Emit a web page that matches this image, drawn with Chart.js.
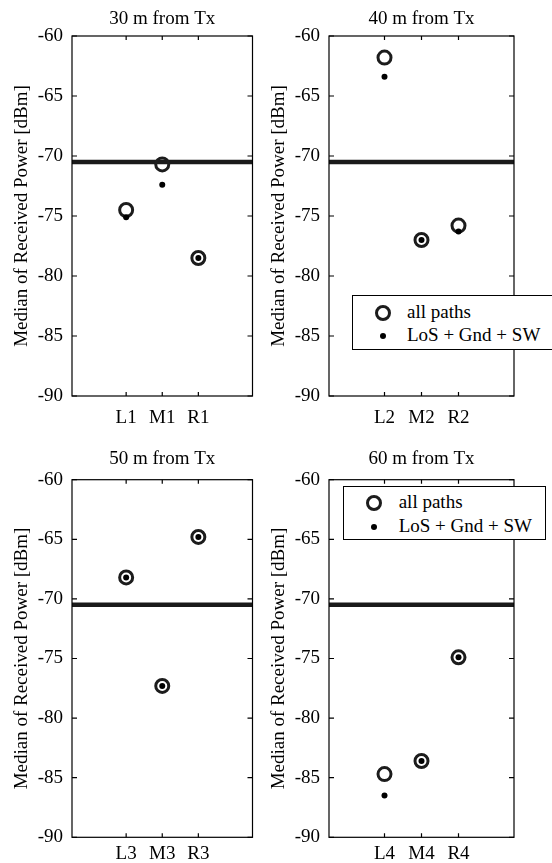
<!DOCTYPE html>
<html>
<head>
<meta charset="utf-8">
<script src="https://cdn.jsdelivr.net/npm/chart.js@4.4.1/dist/chart.umd.min.js"></script>
<style>
  body { margin: 0; background: #fff; }
  #wrap { position: relative; width: 552px; height: 863px; overflow: hidden; font-family: 'Liberation Serif', 'Times New Roman', serif; }
  .panel { position: absolute; }
  .legend { position: absolute; background: #fff; border: 1.3px solid #000; box-sizing: border-box; font-size: 19px; color: #000; z-index: 5; }
  .legend .txt { position: absolute; white-space: nowrap; line-height: 22px; height: 22px; }
  .legend .ring { position: absolute; width: 16px; height: 16px; border: 3px solid #1c1c1c; border-radius: 50%; box-sizing: border-box; }
  .legend .dot { position: absolute; width: 6px; height: 6px; background: #000; border-radius: 50%; }
</style>
</head>
<body>
<div id="wrap"></div>
<script>
// --- data ---
const panelTitles = ['30 m from Tx', '40 m from Tx', '50 m from Tx', '60 m from Tx'];
const positions = [
  ['L1', 'M1', 'R1'],
  ['L2', 'M2', 'R2'],
  ['L3', 'M3', 'R3'],
  ['L4', 'M4', 'R4']
];
const allPaths = [
  [-74.5, -70.7, -78.5],
  [-61.8, -77.0, -75.8],
  [-68.2, -77.3, -64.8],
  [-84.7, -83.6, -74.9]
];
const losGndSw = [
  [-75.1, -72.4, -78.5],
  [-63.4, -77.0, -76.3],
  [-68.2, -77.3, -64.8],
  [-86.5, -83.6, -74.9]
];
const threshold = -70.5;
const seriesNames = ['all paths', 'LoS + Gnd + SW'];
const yAxisTitle = 'Median of Received Power [dBm]';
const yMin = -90, yMax = -60, yStep = 5;
const xMin = -1.5, xMax = 3.5;

// --- layout (pixels) ---
const panels = [
  { left: 0,   top: 0,   w: 262, h: 440, padRight: 5,  titleH: 36,   titlePad: 7.5, xAxisH: 44,   tickPad: 10.5 },
  { left: 257, top: 0,   w: 295, h: 440, padRight: 38, titleH: 36,   titlePad: 7.5, xAxisH: 44,   tickPad: 10.5,
    legend: { left: 351.7, top: 294.7, w: 202, h: 55.3, row1: 17.6, row2: 40.3, mx: 30.3, tx: 54.3 } },
  { left: 0,   top: 440, w: 262, h: 423, padRight: 5,  titleH: 39.7, titlePad: 7.9, xAxisH: 25.7, tickPad: 5.6 },
  { left: 257, top: 440, w: 295, h: 423, padRight: 38, titleH: 39.7, titlePad: 7.9, xAxisH: 25.7, tickPad: 5.6,
    legend: { left: 343.3, top: 486, w: 202.7, h: 54, row1: 15.7, row2: 39.7, mx: 29.4, tx: 54.4 } }
];

Chart.defaults.font.family = "'Liberation Serif', 'Times New Roman', serif";
Chart.defaults.font.size = 19;
Chart.defaults.color = '#000';

// box around the axes + inward tick marks (matlab style)
const framePlugin = {
  id: 'frame',
  afterDraw(chart) {
    const { ctx, chartArea: a, scales } = chart;
    ctx.save();
    ctx.strokeStyle = '#000';
    ctx.lineWidth = 1.2;
    ctx.strokeRect(a.left, a.top, a.right - a.left, a.bottom - a.top);
    ctx.beginPath();
    scales.y.ticks.forEach(t => {
      const py = scales.y.getPixelForValue(t.value);
      ctx.moveTo(a.left, py); ctx.lineTo(a.left + 5, py);
      ctx.moveTo(a.right, py); ctx.lineTo(a.right - 5, py);
    });
    scales.x.ticks.forEach(t => {
      const px = scales.x.getPixelForValue(t.value);
      ctx.moveTo(px, a.bottom); ctx.lineTo(px, a.bottom - 4);
      ctx.moveTo(px, a.top); ctx.lineTo(px, a.top + 4);
    });
    ctx.stroke();
    ctx.restore();
  }
};

const wrap = document.getElementById('wrap');

function makeLegend(lg) {
  const box = document.createElement('div');
  box.className = 'legend';
  box.style.left = lg.left + 'px';
  box.style.top = lg.top + 'px';
  box.style.width = lg.w + 'px';
  box.style.height = lg.h + 'px';
  const ring = document.createElement('div');
  ring.className = 'ring';
  ring.style.left = (lg.mx - 8) + 'px';
  ring.style.top = (lg.row1 - 8) + 'px';
  const dot = document.createElement('div');
  dot.className = 'dot';
  dot.style.left = (lg.mx - 3) + 'px';
  dot.style.top = (lg.row2 - 3) + 'px';
  box.appendChild(ring);
  box.appendChild(dot);
  [lg.row1, lg.row2].forEach((ry, k) => {
    const t = document.createElement('div');
    t.className = 'txt';
    t.textContent = seriesNames[k];
    t.style.left = lg.tx + 'px';
    t.style.top = (ry - 12) + 'px';
    box.appendChild(t);
  });
  wrap.appendChild(box);
}

function makePanel(i) {
  const p = panels[i];
  const div = document.createElement('div');
  div.className = 'panel';
  div.style.left = p.left + 'px';
  div.style.top = p.top + 'px';
  const canvas = document.createElement('canvas');
  canvas.width = p.w;
  canvas.height = p.h;
  div.appendChild(canvas);
  wrap.appendChild(div);

  new Chart(canvas, {
    type: 'scatter',
    data: {
      datasets: [
        {
          label: seriesNames[1],
          data: losGndSw[i].map((v, k) => ({ x: k, y: v })),
          pointRadius: 3,
          pointBorderWidth: 0,
          pointBackgroundColor: '#000',
          order: 0
        },
        {
          label: seriesNames[0],
          data: allPaths[i].map((v, k) => ({ x: k, y: v })),
          pointRadius: 6.5,
          pointBorderWidth: 3,
          pointBorderColor: '#1c1c1c',
          pointBackgroundColor: 'rgba(0,0,0,0)',
          order: 1
        },
        {
          type: 'line',
          label: 'threshold',
          data: [{ x: xMin, y: threshold }, { x: xMax, y: threshold }],
          showLine: true,
          borderColor: '#1a1a1a',
          borderWidth: 4.5,
          pointRadius: 0,
          order: 2
        }
      ]
    },
    options: {
      responsive: false,
      animation: false,
      events: [],
      layout: { padding: { left: 0, right: p.padRight, top: 0, bottom: 0 } },
      plugins: { legend: { display: false }, tooltip: { enabled: false } },
      scales: {
        x: {
          type: 'linear', position: 'bottom', min: xMin, max: xMax,
          afterBuildTicks: s => { s.ticks = positions[i].map((_, k) => ({ value: k })); },
          ticks: { callback: v => positions[i][v], padding: p.tickPad, maxRotation: 0, autoSkip: false },
          grid: { display: false, drawTicks: false },
          border: { display: false },
          afterFit: s => { s.height = p.xAxisH; }
        },
        top: {
          type: 'linear', position: 'top', min: xMin, max: xMax,
          ticks: { display: false },
          grid: { display: false, drawTicks: false },
          border: { display: false },
          title: { display: true, text: panelTitles[i], padding: { top: p.titlePad, bottom: 0 } },
          afterFit: s => { s.height = p.titleH; }
        },
        y: {
          min: yMin, max: yMax,
          ticks: { stepSize: yStep, padding: 9 },
          grid: { display: false, drawTicks: false },
          border: { display: false },
          title: { display: true, text: yAxisTitle, padding: { top: 10.5, bottom: 0 } },
          afterFit: s => { s.width = 72; }
        }
      }
    },
    plugins: [framePlugin]
  });

  if (p.legend) makeLegend(p.legend);
}

panels.forEach((_, i) => makePanel(i));
</script>
</body>
</html>
